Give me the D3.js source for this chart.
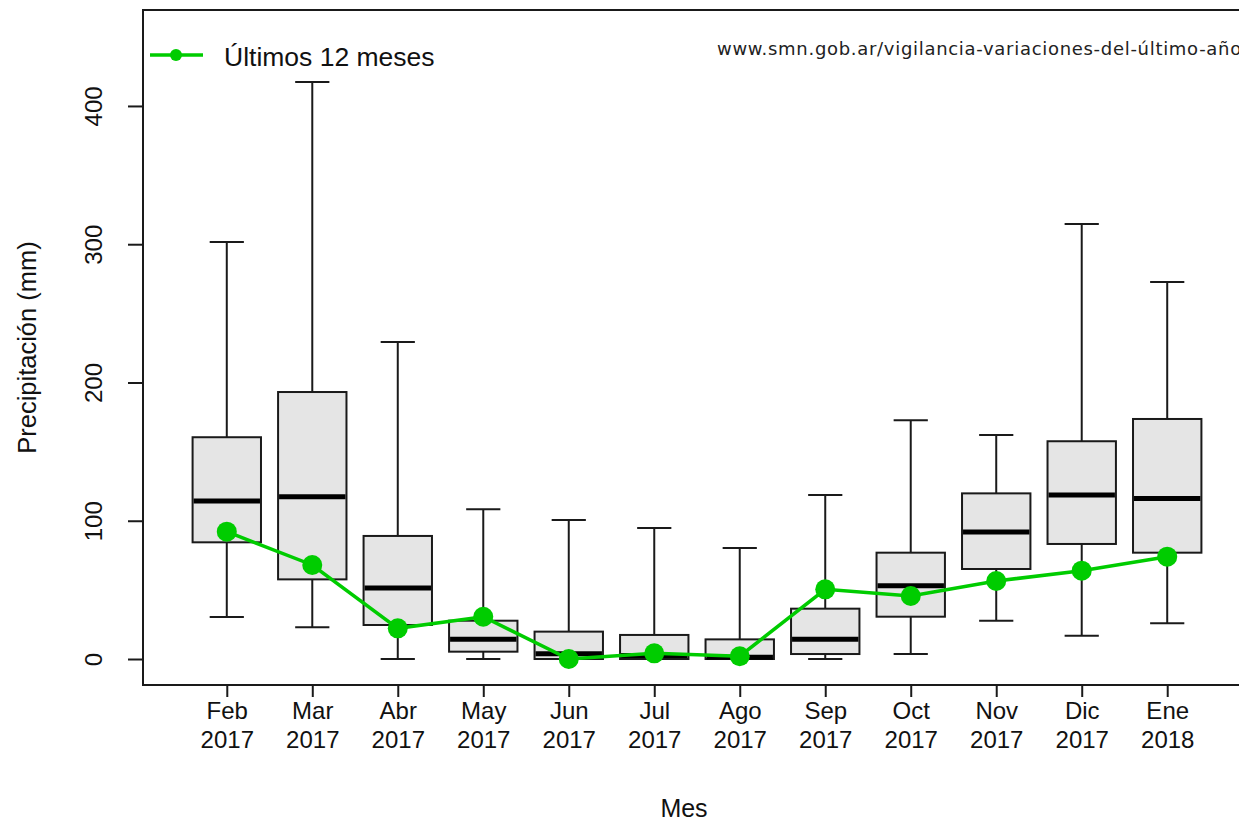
<!DOCTYPE html>
<html>
<head>
<meta charset="utf-8">
<script src="https://cdn.jsdelivr.net/npm/d3@7"></script>
<style>
  body { margin: 0; background: #fff; }
  svg { display: block; font-family: "Liberation Sans", Arial, sans-serif; }
</style>
</head>
<body>
<div id="chart"></div>
<script>
// month labels (two lines under each box)
var meses = ["Feb", "Mar", "Abr", "May", "Jun", "Jul", "Ago", "Sep", "Oct", "Nov", "Dic", "Ene"]
var anios = ["2017", "2017", "2017", "2017", "2017", "2017", "2017", "2017", "2017", "2017", "2017", "2018"]

// boxplot stats, mm
var whiskLo = [30.4, 22.9, 0, 0, 0, 0, 0, 0, 3.6, 27.7, 16.9, 25.8]
var q1      = [84.4, 57.6, 24.6, 5.3, 0, 0, 0, 3.6, 30.6, 65.1, 83.2, 76.9]
var mediana = [114.3, 117.4, 51.4, 14.2, 3.8, 2.5, 1.2, 14.2, 53.0, 91.9, 118.6, 116.0]
var q3      = [160.4, 193.1, 89.0, 27.7, 19.8, 17.4, 14.2, 36.4, 76.9, 119.8, 157.5, 173.6]
var whiskHi = [301.6, 417.4, 229.3, 108.3, 100.5, 94.8, 80.3, 118.6, 172.6, 162.0, 314.6, 272.7]

// last 12 months
var ultimos = [92.1, 68.0, 22.2, 30.6, 0, 4.1, 2.0, 50.4, 45.6, 56.4, 63.9, 74.0]

var yTicks = [0, 100, 200, 300, 400]

var width = 1239, height = 822
var m = { left: 143, right: 1251, top: 10, bottom: 685 }
var verde = "#00cc00", gris = "#e5e5e5", trazo = "#1a1a1a"

var svg = d3.select("#chart").append("svg")
  .attr("width", width)
  .attr("height", height)

var idx = d3.range(1, meses.length + 1)

var x = d3.scaleLinear()
  .domain([0.02, 12.98])
  .range([m.left, m.right])

var y = d3.scaleLinear()
  .domain([-18.8, 469.4])
  .range([m.bottom, m.top])

var boxW = (x(1) - x(0)) * 0.8

// frame
svg.append("rect")
  .attr("x", m.left).attr("y", m.top)
  .attr("width", m.right - m.left).attr("height", m.bottom - m.top)
  .attr("fill", "none").attr("stroke", trazo).attr("stroke-width", 2)

// y axis
var yAxis = svg.append("g")
  .attr("transform", "translate(" + m.left + ",0)")
  .call(d3.axisLeft(y).tickValues(yTicks).tickSize(15).tickPadding(0).tickFormat(d3.format("d")))
yAxis.select(".domain")
  .attr("d", "M0," + y(0) + "V" + y(400))
  .attr("stroke", trazo).attr("stroke-width", 2)
yAxis.selectAll(".tick line").attr("stroke", trazo).attr("stroke-width", 2)
yAxis.selectAll(".tick text")
  .attr("x", null).attr("dy", null)
  .attr("transform", "translate(-41,0) rotate(-90)")
  .attr("text-anchor", "middle")
  .attr("fill", "#111")
  .style("font-size", "24px")
  .style("font-family", "Liberation Sans, Arial, sans-serif")

// x axis
var xAxis = svg.append("g")
  .attr("transform", "translate(0," + m.bottom + ")")
  .call(d3.axisBottom(x).tickValues(idx).tickSize(12).tickFormat(""))
xAxis.select(".domain").remove()
xAxis.selectAll(".tick line").attr("stroke", trazo).attr("stroke-width", 2)
xAxis.selectAll(".tick").each(function (d, i) {
  var t = d3.select(this).append("text")
    .attr("text-anchor", "middle")
    .attr("fill", "#111")
    .style("font-size", "24px")
    .style("font-family", "Liberation Sans, Arial, sans-serif")
  t.append("tspan").attr("x", 0).attr("y", 34).text(meses[i])
  t.append("tspan").attr("x", 0).attr("y", 63).text(anios[i])
})

// axis titles
svg.append("text")
  .attr("x", 684).attr("y", 817)
  .attr("text-anchor", "middle")
  .attr("fill", "#111")
  .style("font-size", "25px")
  .text("Mes")

svg.append("text")
  .attr("transform", "translate(36," + ((m.top + m.bottom) / 2) + ") rotate(-90)")
  .attr("text-anchor", "middle")
  .attr("fill", "#111")
  .style("font-size", "25.5px")
  .text("Precipitación (mm)")

// boxes
var g = svg.append("g")
var cajas = g.selectAll(".caja")
  .data(idx.map(function (d, i) { return i }))
  .enter().append("g")
  .attr("class", "caja")

cajas.append("line")
  .attr("x1", function (i) { return x(i + 1) })
  .attr("x2", function (i) { return x(i + 1) })
  .attr("y1", function (i) { return y(whiskHi[i]) })
  .attr("y2", function (i) { return y(whiskLo[i]) })
  .attr("stroke", trazo).attr("stroke-width", 2)

cajas.selectAll(".cap")
  .data(function (i) { return [[i, whiskHi[i]], [i, whiskLo[i]]] })
  .enter().append("line")
  .attr("x1", function (d) { return x(d[0] + 1) - boxW / 4 })
  .attr("x2", function (d) { return x(d[0] + 1) + boxW / 4 })
  .attr("y1", function (d) { return y(d[1]) })
  .attr("y2", function (d) { return y(d[1]) })
  .attr("stroke", trazo).attr("stroke-width", 2)

cajas.append("rect")
  .attr("x", function (i) { return x(i + 1) - boxW / 2 })
  .attr("width", boxW)
  .attr("y", function (i) { return y(q3[i]) })
  .attr("height", function (i) { return y(q1[i]) - y(q3[i]) })
  .attr("fill", gris)
  .attr("stroke", trazo).attr("stroke-width", 2)

cajas.append("line")
  .attr("x1", function (i) { return x(i + 1) - boxW / 2 + 1 })
  .attr("x2", function (i) { return x(i + 1) + boxW / 2 - 1 })
  .attr("y1", function (i) { return y(mediana[i]) })
  .attr("y2", function (i) { return y(mediana[i]) })
  .attr("stroke", "#000").attr("stroke-width", 5)

// last 12 months line
var linea = d3.line()
  .x(function (d, i) { return x(i + 1) })
  .y(function (d) { return y(d) })

svg.append("path")
  .datum(ultimos)
  .attr("d", linea)
  .attr("fill", "none")
  .attr("stroke", verde).attr("stroke-width", 3.5)

svg.selectAll(".punto")
  .data(ultimos)
  .enter().append("circle")
  .attr("class", "punto")
  .attr("cx", function (d, i) { return x(i + 1) })
  .attr("cy", function (d) { return y(d) })
  .attr("r", 10)
  .attr("fill", verde)

// legend
svg.append("line")
  .attr("x1", 150).attr("x2", 203).attr("y1", 55).attr("y2", 55)
  .attr("stroke", verde).attr("stroke-width", 3.5)
svg.append("circle")
  .attr("cx", 176).attr("cy", 55).attr("r", 6)
  .attr("fill", verde)
svg.append("text")
  .attr("x", 224).attr("y", 66)
  .attr("fill", "#111")
  .style("font-size", "26.5px")
  .text("Últimos 12 meses")

// source url
svg.append("text")
  .attr("x", 717).attr("y", 55)
  .attr("fill", "#222")
  .style("font-size", "18px")
  .style("letter-spacing", "0.7px")
  .style("font-family", "DejaVu Sans, sans-serif")
  .text("www.smn.gob.ar/vigilancia-variaciones-del-último-año")
</script>
</body>
</html>
